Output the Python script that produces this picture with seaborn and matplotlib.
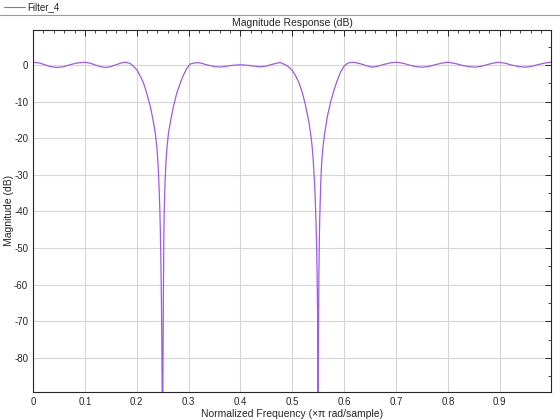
import numpy as np
import pandas as pd
import matplotlib
matplotlib.use("Agg")
import matplotlib.pyplot as plt
from matplotlib.lines import Line2D
from matplotlib.ticker import MultipleLocator, FuncFormatter
import seaborn as sns

# Magnitude response (normalized freq, dB)
freq = [0.000, 0.012, 0.023, 0.034, 0.046, 0.058, 0.070, 0.083, 0.098, 0.110,
        0.120, 0.130, 0.139, 0.150, 0.160, 0.170, 0.178, 0.187, 0.193, 0.200,
        0.2065, 0.213, 0.219, 0.226, 0.231, 0.2355, 0.239, 0.2408, 0.2422, 0.2435,
        0.2446, 0.2456, 0.2465, 0.2474, 0.2482, 0.2489, 0.2499, 0.2503, 0.2508, 0.2514,
        0.2519, 0.2523, 0.2530, 0.2538, 0.2548, 0.2562, 0.258, 0.2613, 0.2658, 0.271,
        0.2774, 0.284, 0.2903, 0.2968, 0.303, 0.313, 0.321, 0.329, 0.339, 0.350,
        0.361, 0.372, 0.385, 0.400, 0.415, 0.428, 0.438, 0.450, 0.462, 0.470,
        0.4774, 0.487, 0.4935, 0.500, 0.5065, 0.513, 0.5194, 0.5258, 0.5323, 0.5368,
        0.539, 0.541, 0.5428, 0.5443, 0.5456, 0.5468, 0.5478, 0.5487, 0.5494, 0.550,
        0.5503, 0.5508, 0.5514, 0.5521, 0.5529, 0.5538, 0.5548, 0.556, 0.5575, 0.5594,
        0.5626, 0.5677, 0.5742, 0.5806, 0.587, 0.5935, 0.600, 0.6065, 0.613, 0.620,
        0.632, 0.643, 0.654, 0.666, 0.678, 0.690, 0.702, 0.714, 0.726, 0.738,
        0.750, 0.763, 0.775, 0.788, 0.800, 0.813, 0.826, 0.840, 0.853, 0.865,
        0.876, 0.887, 0.898, 0.911, 0.924, 0.937, 0.950, 0.962, 0.974, 0.986,
        0.998]
mag_db = [0.75, 0.55, 0.05, -0.45, -0.7, -0.5, 0.0, 0.5, 0.75, 0.5,
          0.0, -0.45, -0.7, -0.45, 0.05, 0.55, 0.75, 0.45, -0.27, -1.3,
          -2.95, -4.9, -7.6, -11.2, -14.7, -18.3, -22.8, -26.5, -30.5, -35.0,
          -40.0, -46.0, -53.0, -62.0, -73.0, -86.0, -200.0, -90.0, -75.0, -63.0,
          -53.0, -46.0, -40.0, -35.5, -31.4, -27.0, -23.0, -18.5, -14.9, -11.2,
          -7.6, -4.9, -2.7, -0.9, 0.27, 0.6, 0.6, 0.3, -0.1, -0.45,
          -0.55, -0.35, -0.1, 0.05, -0.1, -0.35, -0.5, -0.3, 0.2, 0.5,
          0.65, 0.0, -0.6, -1.5, -3.0, -4.9, -7.6, -11.2, -15.8, -20.3,
          -23.5, -27.5, -32.0, -37.0, -42.5, -49.0, -57.0, -67.0, -80.0, -200.0,
          -80.0, -66.0, -56.0, -48.0, -42.0, -37.0, -32.5, -28.5, -25.0, -22.0,
          -18.5, -14.0, -9.9, -6.8, -4.1, -1.8, -0.3, 0.45, 0.7, 0.7,
          0.3, -0.2, -0.6, -0.3, 0.2, 0.6, 0.75, 0.45, -0.05, -0.45,
          -0.6, -0.4, 0.05, 0.5, 0.75, 0.45, -0.05, -0.45, -0.6, -0.35,
          0.1, 0.5, 0.75, 0.45, -0.05, -0.45, -0.6, -0.35, 0.1, 0.5,
          0.75]

xticks = [0, 0.1, 0.2, 0.3, 0.4, 0.5, 0.6, 0.7, 0.8, 0.9]
yticks = [-80, -70, -60, -50, -40, -30, -20, -10, 0]

df = pd.DataFrame({"freq": freq, "mag": mag_db})

sns.set_style("white")
plt.rcParams["font.family"] = ["Liberation Sans", "DejaVu Sans"]
plt.rcParams["axes.unicode_minus"] = False

fig = plt.figure(figsize=(5.6, 4.2), dpi=100)
ax = fig.add_axes([0.059, 0.067, 0.925, 0.862])

line_color = "#a259e6"
sns.lineplot(data=df, x="freq", y="mag", ax=ax, color=line_color,
             linewidth=0.9, estimator=None, sort=False)

ax.set_xlim(0, 0.999)
ax.set_ylim(-89.3, 9.6)
ax.set_xticks(xticks)
ax.set_yticks(yticks)
ax.xaxis.set_major_formatter(FuncFormatter(lambda v, p: "0" if v == 0 else f"{v:g}"))
ax.xaxis.set_minor_locator(MultipleLocator(0.02))
ax.yaxis.set_minor_locator(MultipleLocator(5))
ax.grid(True, which="major", color="#d6d6d6", linewidth=0.8)
ax.set_axisbelow(True)
ax.tick_params(which="both", direction="in", top=True, right=True,
               colors="#262626", labelsize=7)
ax.tick_params(which="major", length=4, width=0.7)
ax.tick_params(which="minor", length=2, width=0.6)
for s in ax.spines.values():
    s.set_color("#262626")
    s.set_linewidth(0.8)

ax.set_title("Magnitude Response (dB)", fontsize=7.5, color="#262626", pad=3)
ax.set_xlabel("Normalized Frequency (\u00d7\u03c0 rad/sample)", fontsize=7.5,
              color="#262626", labelpad=2)
ax.set_ylabel("Magnitude (dB)", fontsize=7.5, color="#262626", va="center")
ax.yaxis.set_label_coords(-0.046, 0.5)

# legend strip across the top
fig.add_artist(Line2D([4 / 560, 25 / 560], [1 - 7 / 420, 1 - 7 / 420],
                      color=line_color, linewidth=0.8))
fig.text(27 / 560, 1 - 7 / 420, "Filter_4", fontsize=7, va="center",
         color="#262626")
fig.add_artist(Line2D([0, 1], [1 - 15 / 420, 1 - 15 / 420],
                      color="#9a9a9a", linewidth=0.8))

fig.savefig("out.png", dpi=100, facecolor="white")
